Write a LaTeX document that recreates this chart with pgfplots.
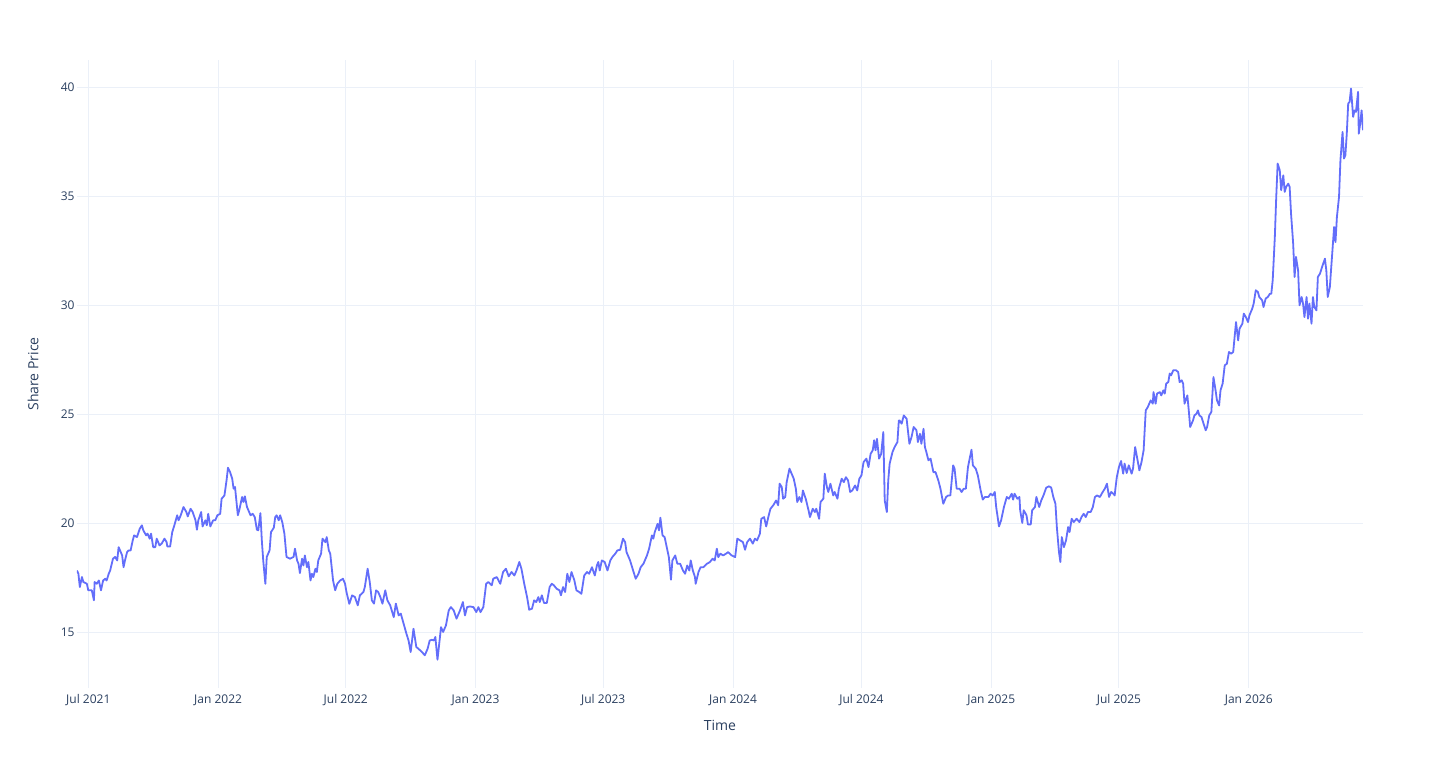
\documentclass[border=0pt]{standalone}
\usepackage{fontspec}
\setmainfont{Open Sans}
\usepackage{pgfplots}
\pgfplotsset{compat=1.18}
\definecolor{plotline}{HTML}{636EFA}
\definecolor{gridc}{HTML}{EBF0F8}
\definecolor{txt}{HTML}{2A3F5F}
\begin{document}
\begin{tikzpicture}
\begin{axis}[
  at={(0,0)}, anchor=south west,
  scale only axis, width=643pt, height=314pt,
  xmin=-16, xmax=1807, ymin=12.45, ymax=41.25,
  enlargelimits=false,
  axis line style={draw=none},
  major tick length=0pt,
  xtick={0,184,365,549,730,914,1096,1280,1461,1645},
  xticklabels={Jul 2021,Jan 2022,Jul 2022,Jan 2023,Jul 2023,Jan 2024,Jul 2024,Jan 2025,Jul 2025,Jan 2026},
  ytick={15,20,25,30,35,40},
  grid=major,
  major grid style={gridc, line width=0.5pt},
  tick label style={font=\fontsize{6}{7}\selectfont, text=txt},
  yticklabel style={inner sep=1pt},
  xticklabel style={inner sep=1pt, yshift=-2pt},
  /pgf/number format/assume math mode=true,
  xlabel={Time}, ylabel={Share Price},
  label style={font=\fontsize{7}{8}\selectfont, text=txt},
  xlabel style={at={(axis description cs:0.5,-0.0589)}, anchor=center},
  ylabel style={at={(axis description cs:-0.0342,0.5)}, anchor=center},
]
\addplot[plotline, line width=0.9pt, line join=round, mark=none] coordinates {
(-16,17.84)(-14,17.69)(-12,17.08)(-9,17.54)(-7,17.31)(-2,17.23)(0,16.93)(5,16.93)(8,16.47)(9,17.31)
(12,17.23)(15,17.38)(18,16.93)(21,17.38)(24,17.46)(26,17.38)(29,17.69)(31,17.84)(35,18.38)(38,18.46)
(41,18.30)(43,18.91)(45,18.76)(48,18.53)(50,17.99)(52,18.30)(55,18.68)(57,18.76)(60,18.76)(63,19.22)
(65,19.45)(69,19.37)(73,19.76)(76,19.91)(78,19.68)(82,19.45)(84,19.53)(87,19.30)(89,19.53)(92,18.91)
(95,18.91)(97,19.30)(101,18.99)(104,19.07)(108,19.30)(111,19.14)(112,18.94)(116,18.94)(119,19.60)(122,19.91)
(126,20.37)(128,20.14)(131,20.37)(135,20.75)(139,20.52)(141,20.32)(145,20.67)(148,20.52)(152,20.14)(154,19.71)
(156,20.14)(160,20.52)(162,19.86)(166,20.14)(168,19.91)(170,20.44)(173,19.86)(177,20.14)(180,20.14)(183,20.37)
(187,20.44)(189,21.13)(193,21.28)(196,21.97)(198,22.55)(201,22.35)(204,22.05)(206,21.59)(208,21.67)(212,20.37)
(214,20.60)(218,21.21)(220,20.98)(222,21.24)(225,20.75)(227,20.60)(230,20.37)(233,20.44)(236,20.29)(239,19.71)
(241,19.68)(244,20.47)(246,19.22)(248,18.30)(251,17.23)(253,18.46)(257,18.76)(259,19.60)(263,19.80)(265,20.29)
(267,20.37)(270,20.14)(272,20.37)(275,20.06)(278,19.53)(281,18.46)(286,18.38)(291,18.46)(293,18.84)(296,18.30)
(298,18.15)(300,17.72)(303,18.38)(305,18.07)(307,18.53)(310,17.99)(312,18.23)(315,17.38)(317,17.69)(319,17.54)
(322,17.92)(324,17.77)(326,18.30)(330,18.61)(332,19.30)(336,19.14)(338,19.37)(341,18.76)(343,18.61)(347,17.38)
(350,16.93)(353,17.23)(357,17.38)(361,17.46)(364,17.23)(366,16.85)(370,16.31)(374,16.70)(378,16.62)(382,16.24)
(385,16.70)(390,16.85)(392,17.08)(396,17.92)(399,17.31)(402,16.47)(405,16.32)(408,16.93)(411,16.85)(414,16.62)
(417,16.32)(421,16.93)(424,16.47)(428,16.24)(433,15.70)(436,16.32)(440,15.78)(443,15.86)(447,15.40)(451,14.94)
(454,14.63)(457,14.10)(461,15.17)(465,14.33)(468,14.25)(473,14.10)(477,13.95)(481,14.25)(484,14.63)(487,14.66)
(490,14.63)(492,14.79)(495,13.75)(498,14.63)(500,15.24)(503,15.02)(507,15.32)(511,16.01)(514,16.16)(518,16.01)
(522,15.63)(527,16.01)(531,16.39)(534,15.78)(537,16.16)(541,16.19)(546,16.16)(550,15.93)(553,16.16)(556,15.93)
(560,16.16)(564,17.23)(567,17.31)(572,17.16)(574,17.46)(579,17.54)(584,17.23)(588,17.77)(592,17.92)(596,17.57)
(600,17.77)(604,17.61)(607,17.84)(611,18.23)(614,17.92)(618,17.23)(622,16.62)(625,16.04)(629,16.09)(632,16.47)
(635,16.39)(638,16.62)(640,16.39)(643,16.70)(646,16.35)(650,16.35)(654,17.08)(657,17.23)(660,17.16)(664,17.00)
(668,16.93)(670,16.70)(673,17.08)(676,16.85)(679,17.69)(682,17.31)(685,17.77)(689,17.39)(692,16.93)(696,16.85)
(699,16.77)(703,17.61)(707,17.77)(710,17.69)(714,17.99)(718,17.61)(721,18.07)(723,18.23)(725,17.84)(728,18.30)
(732,18.23)(736,17.84)(740,18.30)(743,18.46)(747,18.61)(750,18.76)(754,18.79)(758,19.30)(761,19.14)(763,18.68)
(768,18.30)(773,17.77)(776,17.46)(780,17.69)(783,17.99)(787,18.15)(792,18.53)(795,18.84)(799,19.45)(801,19.30)
(803,19.60)(807,19.98)(809,19.68)(811,20.26)(814,19.45)(817,19.37)(820,18.91)(823,18.45)(826,17.42)(828,18.30)
(832,18.53)(835,18.15)(839,18.15)(843,17.84)(846,17.69)(849,18.07)(852,17.84)(854,18.30)(857,17.84)(860,17.54)
(861,17.23)(865,17.77)(868,17.99)(872,17.99)(877,18.15)(881,18.22)(885,18.38)(888,18.30)(891,18.84)(893,18.45)
(896,18.61)(900,18.53)(904,18.61)(907,18.68)(912,18.53)(917,18.45)(920,19.30)(924,19.22)(928,19.14)(931,18.79)
(934,19.14)(938,19.30)(942,19.07)(945,19.30)(948,19.22)(952,19.52)(954,20.21)(958,20.29)(961,19.86)(964,20.29)
(967,20.67)(971,20.83)(975,21.05)(978,20.83)(980,21.82)(983,21.67)(985,21.13)(988,21.21)(990,21.89)(994,22.51)
(997,22.28)(1000,22.05)(1003,21.59)(1005,20.98)(1008,21.21)(1011,20.98)(1013,21.51)(1017,21.13)(1021,20.60)(1023,20.29)
(1027,20.67)(1030,20.52)(1032,20.67)(1036,20.21)(1038,20.98)(1042,21.13)(1044,22.28)(1047,21.67)(1049,21.44)(1052,21.82)
(1056,21.28)(1058,21.44)(1062,21.13)(1064,21.59)(1068,22.05)(1071,21.89)(1074,22.12)(1077,21.97)(1080,21.44)(1083,21.51)
(1087,21.74)(1090,21.51)(1093,22.05)(1096,22.20)(1099,22.81)(1103,22.97)(1106,22.58)(1109,23.19)(1112,23.35)(1114,23.81)
(1116,23.35)(1118,23.88)(1121,22.97)(1124,23.19)(1127,24.19)(1129,21.05)(1132,20.52)(1134,21.97)(1136,22.74)(1140,23.27)
(1143,23.50)(1147,23.73)(1149,24.72)(1150,24.72)(1153,24.57)(1156,24.95)(1160,24.80)(1164,23.65)(1167,23.96)(1170,24.42)
(1174,24.27)(1176,23.73)(1179,24.11)(1181,23.65)(1184,24.34)(1186,23.50)(1188,23.27)(1191,22.89)(1194,22.97)(1198,22.35)
(1201,22.35)(1205,21.97)(1208,21.59)(1212,20.90)(1216,21.21)(1219,21.28)(1222,21.28)(1226,22.66)(1228,22.51)(1231,21.59)
(1235,21.59)(1238,21.44)(1241,21.59)(1244,21.59)(1247,22.58)(1252,23.38)(1254,22.66)(1258,22.51)(1261,22.20)(1265,21.51)
(1268,21.09)(1271,21.21)(1276,21.21)(1279,21.36)(1282,21.28)(1285,21.44)(1287,20.75)(1291,19.86)(1294,20.14)(1298,20.75)
(1302,21.21)(1305,21.13)(1309,21.36)(1311,21.09)(1313,21.36)(1317,21.13)(1320,21.21)(1321,20.60)(1324,20.02)(1326,20.60)
(1330,20.37)(1332,19.95)(1336,19.95)(1338,20.60)(1342,20.75)(1344,21.21)(1348,20.75)(1351,21.06)(1354,21.28)(1358,21.64)
(1362,21.70)(1365,21.64)(1368,21.21)(1371,20.90)(1373,19.83)(1376,18.69)(1378,18.23)(1380,19.37)(1383,18.91)(1386,19.22)
(1389,19.83)(1391,19.60)(1394,20.21)(1397,20.06)(1401,20.21)(1405,20.06)(1408,20.29)(1411,20.44)(1414,20.29)(1417,20.52)
(1421,20.52)(1424,20.75)(1427,21.21)(1430,21.28)(1434,21.21)(1438,21.44)(1441,21.59)(1444,21.82)(1447,21.21)(1450,21.44)
(1453,21.36)(1455,21.28)(1456,21.59)(1458,22.12)(1461,22.58)(1464,22.86)(1467,22.28)(1469,22.74)(1472,22.31)(1475,22.66)
(1479,22.28)(1481,22.51)(1484,23.50)(1487,22.97)(1490,22.43)(1493,22.81)(1496,23.35)(1499,25.18)(1502,25.34)(1506,25.64)
(1509,25.49)(1510,26.02)(1513,25.49)(1515,25.95)(1519,26.02)(1521,25.87)(1524,26.10)(1526,25.95)(1528,26.41)(1531,26.48)
(1533,26.87)(1535,26.79)(1538,27.02)(1542,27.02)(1545,26.94)(1547,26.48)(1550,26.56)(1552,26.41)(1554,25.49)(1558,25.87)
(1560,25.18)(1562,24.42)(1566,24.72)(1568,24.95)(1571,25.03)(1573,25.18)(1575,24.95)(1578,24.88)(1581,24.57)(1584,24.27)
(1586,24.42)(1589,24.95)(1592,25.11)(1595,26.71)(1598,26.10)(1600,25.64)(1603,25.41)(1605,26.10)(1608,26.41)(1611,27.25)
(1614,27.32)(1617,27.86)(1620,27.78)(1623,27.86)(1625,28.55)(1627,29.23)(1630,28.39)(1632,28.93)(1636,29.16)(1638,29.62)
(1641,29.46)(1644,29.23)(1646,29.54)(1650,29.85)(1652,30.08)(1655,30.69)(1658,30.61)(1660,30.38)(1664,30.23)(1666,29.92)
(1669,30.31)(1672,30.38)(1675,30.53)(1677,30.53)(1679,31.15)(1682,33.13)(1684,34.97)(1686,36.50)(1689,36.19)(1691,35.28)
(1694,35.96)(1696,35.20)(1698,35.43)(1701,35.58)(1703,35.43)(1705,34.20)(1708,32.83)(1710,31.30)(1712,32.22)(1715,31.60)
(1717,30.00)(1720,30.38)(1722,30.08)(1724,29.46)(1727,30.38)(1729,29.39)(1731,30.08)(1734,29.16)(1736,30.38)(1738,29.92)
(1741,29.77)(1743,31.30)(1746,31.45)(1749,31.76)(1753,32.14)(1755,31.60)(1757,30.38)(1760,30.84)(1762,31.76)(1764,32.67)
(1766,33.59)(1768,32.90)(1770,34.05)(1773,34.97)(1775,36.65)(1778,37.95)(1780,36.73)(1782,36.88)(1784,37.87)(1786,39.25)
(1788,39.33)(1790,39.94)(1793,38.64)(1795,38.94)(1797,38.87)(1800,39.79)(1801,37.87)(1803,38.33)(1805,38.94)(1807,38.03)
};
\end{axis}
\pgfresetboundingbox
\path (-38.5pt,-40pt) rectangle (681.5pt,344pt);
\end{tikzpicture}
\end{document}
